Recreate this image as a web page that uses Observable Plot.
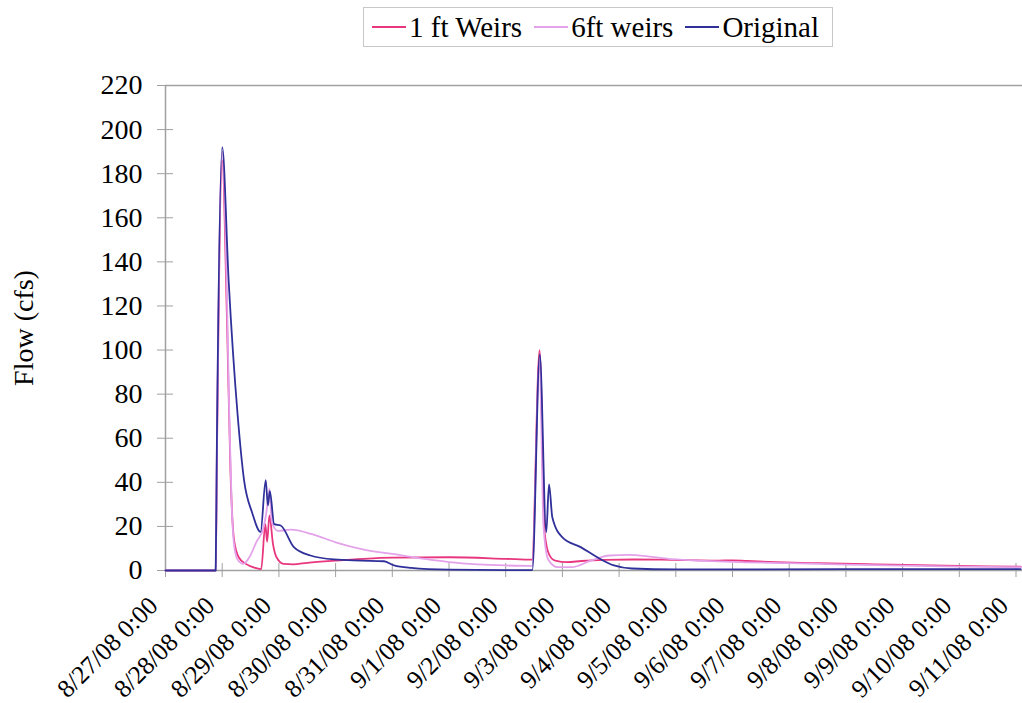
<!DOCTYPE html>
<html><head><meta charset="utf-8">
<script src="https://cdn.jsdelivr.net/npm/d3@7"></script>
<script src="https://cdn.jsdelivr.net/npm/@observablehq/plot@0.6"></script>
<style>
body{margin:0;background:#fff;font-family:"Liberation Serif","Times New Roman",serif;}
#wrap{position:relative;width:1022px;height:703px;}
#legend{position:absolute;left:363px;top:7px;width:470px;height:40px;border:1.5px solid #c8c8c8;display:flex;align-items:center;font-size:29px;box-sizing:border-box;padding-left:8px;color:#000;background:#fff;z-index:2;}
.item{display:flex;align-items:center;margin-right:12px;white-space:nowrap;}
.sw{width:34px;height:2px;margin-right:3px;}
#chart{position:absolute;left:0;top:0;}
</style></head><body>
<div id="wrap"><div id="chart"></div><div id="legend"></div></div>
<script>
// ---- data ----
const seriesNames = ["1 ft Weirs", "6ft weirs", "Original"];
const seriesColors = ["#e8367f", "#e3a2ea", "#30309a"];

const oneFtWeirs = [
  ["08-27 00:00", 0], ["08-27 21:15", 0], ["08-27 21:45", 50], ["08-28 00:00", 186],
  ["08-28 02:00", 115], ["08-28 03:30", 45], ["08-28 05:00", 14], ["08-28 07:00", 6],
  ["08-28 10:00", 3], ["08-28 14:00", 1.2], ["08-28 16:30", 0.6], ["08-28 18:15", 21],
  ["08-28 19:00", 13], ["08-28 20:00", 25], ["08-28 21:30", 12], ["08-28 23:00", 6],
  ["08-29 02:00", 3], ["08-29 06:00", 2.8], ["08-29 12:00", 3.5], ["08-30 00:00", 4.5],
  ["08-30 12:00", 5.3], ["08-31 00:00", 5.8], ["09-01 00:00", 6], ["09-02 00:00", 5.3],
  ["09-02 11:10", 4.9], ["09-02 14:20", 100], ["09-02 16:30", 17], ["09-02 18:30", 7],
  ["09-02 21:00", 4.5], ["09-03 02:00", 3.8], ["09-03 08:00", 4.3], ["09-03 18:00", 4.8],
  ["09-04 06:00", 5], ["09-04 18:00", 4.9], ["09-05 06:00", 4.7], ["09-05 18:00", 4.5],
  ["09-06 00:00", 4.6], ["09-06 06:00", 4.3], ["09-06 18:00", 3.8], ["09-07 12:00", 3.3],
  ["09-08 12:00", 2.8], ["09-09 12:00", 2.3], ["09-10 12:00", 1.9], ["09-11 02:00", 1.7]
];

const sixFtWeirs = [
  ["08-27 00:00", 0], ["08-27 21:15", 0], ["08-27 21:45", 55], ["08-28 00:00", 190],
  ["08-28 02:00", 125], ["08-28 03:00", 70], ["08-28 04:00", 30], ["08-28 05:00", 12],
  ["08-28 06:30", 5], ["08-28 09:00", 3], ["08-28 11:30", 6], ["08-28 14:30", 13],
  ["08-28 17:30", 19.6], ["08-28 18:40", 26], ["08-28 20:00", 37], ["08-28 21:00", 22],
  ["08-28 23:30", 18], ["08-29 05:00", 18.5], ["08-29 14:00", 16.5], ["08-30 00:00", 12.8],
  ["08-30 12:00", 9.5], ["08-31 00:00", 7.5], ["08-31 12:00", 5.5], ["09-01 00:00", 3.8],
  ["09-01 12:00", 2.8], ["09-02 00:00", 2.3], ["09-02 11:10", 2.1], ["09-02 14:20", 95],
  ["09-02 16:00", 20], ["09-02 18:00", 5], ["09-02 22:00", 1.5], ["09-03 04:00", 1.5],
  ["09-03 12:00", 4.5], ["09-03 20:00", 6.8], ["09-04 04:00", 7.1], ["09-04 14:00", 6.2],
  ["09-05 00:00", 5], ["09-05 12:00", 4.4], ["09-06 00:00", 3.9], ["09-07 00:00", 3.3],
  ["09-08 00:00", 2.7], ["09-09 00:00", 2.2], ["09-10 00:00", 1.8], ["09-11 02:00", 1.5]
];

const original = [
  ["08-27 00:00", 0], ["08-27 21:15", 0], ["08-27 21:45", 58], ["08-28 00:00", 192],
  ["08-28 02:45", 131], ["08-28 06:30", 71], ["08-28 09:15", 41], ["08-28 12:45", 26],
  ["08-28 16:15", 17.5], ["08-28 18:25", 41], ["08-28 19:20", 29.5], ["08-28 20:10", 36],
  ["08-28 22:00", 21], ["08-29 00:45", 20.4], ["08-29 06:20", 10.6], ["08-29 13:20", 6.8],
  ["08-29 23:20", 5], ["08-30 10:40", 4.5], ["08-30 20:30", 4.2], ["08-31 00:45", 2.3],
  ["08-31 08:00", 1.2], ["09-01 00:00", 0.4], ["09-02 00:00", 0.2], ["09-02 11:15", 0.2],
  ["09-02 14:25", 98], ["09-02 17:10", 17.4], ["09-02 18:20", 39], ["09-02 19:45", 24],
  ["09-03 00:00", 15], ["09-03 07:45", 10.6], ["09-03 14:45", 6], ["09-03 21:50", 2.3],
  ["09-04 05:30", 0.9], ["09-05 00:00", 0.5], ["09-08 00:00", 0.6], ["09-11 02:00", 0.6]
];

const yTicks = [0, 20, 40, 60, 80, 100, 120, 140, 160, 180, 200, 220];
const xStart = "08-27 00:00";
const xEnd = "09-11 02:45";
const lastTick = "09-11 00:00";

// ---- build ----
const parse = d3.utcParse("%Y-%m-%d %H:%M");
const t = s => parse("2008-" + s);
const table = [oneFtWeirs, sixFtWeirs, original].flatMap((arr, i) =>
  arr.map(([d, v]) => ({date: t(d), value: v, series: seriesNames[i]})));
const xTicks = d3.utcDay.range(t(xStart), d3.utcHour.offset(t(lastTick), 1));
const fmt = d3.utcFormat("%-m/%-d/%y %-H:%M");

const legendBox = document.getElementById("legend");
seriesNames.forEach((n, i) => {
  const it = document.createElement("div");
  it.className = "item";
  it.innerHTML = `<div class="sw" style="background:${seriesColors[i]}"></div><span>${n}</span>`;
  legendBox.appendChild(it);
});

const chart = Plot.plot({
  width: 1022,
  height: 703,
  marginLeft: 165,
  marginRight: 0,
  marginTop: 85,
  marginBottom: 133,
  style: {fontFamily: "'Liberation Serif', 'Times New Roman', serif", fontSize: "27px", background: "#fff", color: "#000"},
  x: {type: "utc", domain: [t(xStart), t(xEnd)], label: null},
  y: {domain: [0, 220], label: null},
  marks: [
    Plot.ruleY([220], {stroke: "#a0a0a0", strokeWidth: 1.5}),
    Plot.ruleY([0], {stroke: "#a0a0a0", strokeWidth: 1.5}),
    Plot.ruleX([t(xStart)], {stroke: "#a0a0a0", strokeWidth: 1.5}),
    Plot.axisY(yTicks, {tickSize: 8, tickPadding: 15, fontSize: 28, stroke: "#a0a0a0", fill: "#000", label: null}),
    Plot.axisY(yTicks, {tickSize: -8, tickFormat: () => "", stroke: "#a0a0a0", label: null}),
    Plot.axisX(xTicks, {tickSize: 7, tickFormat: () => "", stroke: "#a0a0a0", label: null}),
    Plot.axisX(xTicks, {tickSize: -7, tickFormat: () => "", stroke: "#a0a0a0", label: null}),
    Plot.text(xTicks, {x: d => d, text: fmt, frameAnchor: "bottom", rotate: -45, textAnchor: "end", lineAnchor: "middle", dx: -12, dy: 31, fontSize: 25.5, fill: "#000"}),
    Plot.text(["Flow (cfs)"], {frameAnchor: "left", dx: -141, rotate: -90, fontSize: 28, fill: "#000", textAnchor: "middle"}),
    ...seriesNames.map((n, i) => Plot.line(table.filter(d => d.series === n), {
      x: "date", y: "value", stroke: seriesColors[i], strokeWidth: 1.8, curve: "monotone-x"
    }))
  ]
});
document.getElementById("chart").appendChild(chart);
</script></body></html>
